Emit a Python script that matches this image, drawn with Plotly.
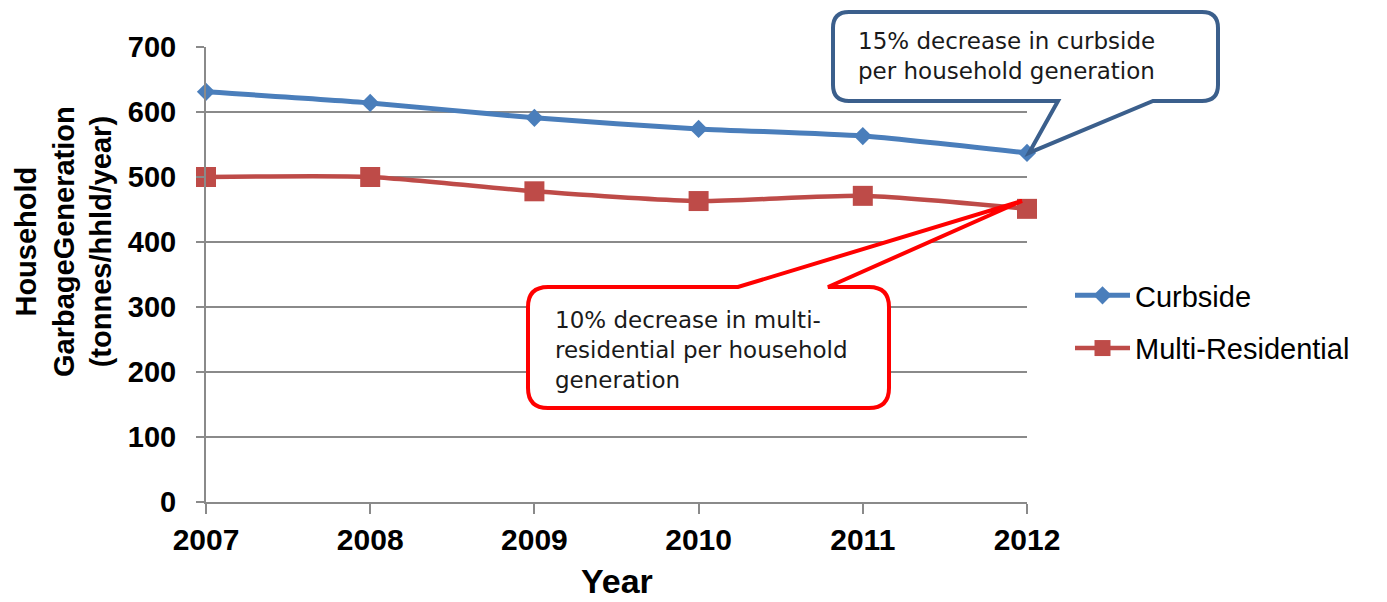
import plotly.graph_objects as go

# Household garbage generation per household, 2007-2012
years = [2007, 2008, 2009, 2010, 2011, 2012]
curbside = [631, 614, 591, 574, 563, 537]
multi_residential = [500, 500, 478, 463, 471, 451]

y_ticks = [0, 100, 200, 300, 400, 500, 600, 700]

curbside_note = "15% decrease in curbside<br>per household generation"
multi_note = "10% decrease in multi-<br>residential per household<br>generation"

W, H = 1387, 602
M_L, M_R, M_T, M_B = 206, 360, 47, 100
X_RANGE = (2007, 2012)
Y_RANGE = (0, 700)
PLOT_W = W - M_L - M_R
PLOT_H = H - M_T - M_B

BLUE = "#4a7ebb"
RED = "#be4b48"
GRID = "#8a8a8a"
AXIS_FONT = "Liberation Sans, Arial, sans-serif"
NOTE_FONT = "DejaVu Sans, Open Sans, sans-serif"


def data_to_px(x, y):
    px = M_L + (x - X_RANGE[0]) / (X_RANGE[1] - X_RANGE[0]) * PLOT_W
    py = M_T + (Y_RANGE[1] - y) / (Y_RANGE[1] - Y_RANGE[0]) * PLOT_H
    return px, py


def px_to_paper(px, py):
    return (px - M_L) / PLOT_W, (H - M_B - py) / PLOT_H


def callout_path(left, top, right, bottom, r, tip, base, side):
    """Rounded box with a wedge pointer; all inputs in page pixels."""
    cmds = []

    def P(cmd, *xy):
        coords = []
        for i in range(0, len(xy), 2):
            x, y = px_to_paper(xy[i], xy[i + 1])
            coords.append(f"{x:.5f},{y:.5f}")
        cmds.append(cmd + " " + " ".join(coords))

    b0, b1 = base
    P("M", left + r, top)
    if side == "top":
        P("L", b0, top)
        P("L", *tip)
        P("L", b1, top)
    P("L", right - r, top)
    P("Q", right, top, right, top + r)
    P("L", right, bottom - r)
    P("Q", right, bottom, right - r, bottom)
    if side == "bottom":
        P("L", b1, bottom)
        P("L", *tip)
        P("L", b0, bottom)
    P("L", left + r, bottom)
    P("Q", left, bottom, left, bottom - r)
    P("L", left, top + r)
    P("Q", left, top, left + r, top)
    return " ".join(cmds) + " Z"


fig = go.Figure()

fig.add_trace(go.Scatter(
    x=years, y=curbside, name="Curbside", mode="lines+markers",
    line=dict(color=BLUE, width=5, shape="spline", smoothing=0.6),
    marker=dict(symbol="diamond", size=14, color=BLUE),
    cliponaxis=False, legendgroup="a",
))
fig.add_trace(go.Scatter(
    x=years, y=multi_residential, name="Multi-Residential", mode="lines+markers",
    line=dict(color=RED, width=4.5, shape="spline", smoothing=0.6),
    marker=dict(symbol="square", size=20, color=RED),
    cliponaxis=False, legendgroup="b",
))

# Callout for curbside: box above the plot, pointing at the last point
tip_c = data_to_px(years[-1], curbside[-1])
blue_path = callout_path(833, 12, 1218, 101, 16, (tip_c[0] + 2, tip_c[1]),
                         (1058, 1153), "bottom")
# Callout for multi-residential: box below the lines, pointing up to the last point
tip_m = data_to_px(years[-1], multi_residential[-1])
red_path = callout_path(528, 287, 889, 408, 20, (tip_m[0] - 5, tip_m[1] - 8),
                        (738, 828), "top")

fig.add_shape(type="path", path=blue_path, xref="paper", yref="paper",
              line=dict(color="#3b5f8c", width=4), fillcolor="white", layer="above")
fig.add_shape(type="path", path=red_path, xref="paper", yref="paper",
              line=dict(color="#ff0000", width=4), fillcolor="white", layer="above")

nx, ny = px_to_paper(856, 26)
fig.add_annotation(text=curbside_note, xref="paper", yref="paper", x=nx, y=ny,
                   xanchor="left", yanchor="top", align="left", showarrow=False,
                   font=dict(family=NOTE_FONT, size=23, color="#1a1a1a"))
nx, ny = px_to_paper(553, 305)
fig.add_annotation(text=multi_note, xref="paper", yref="paper", x=nx, y=ny,
                   xanchor="left", yanchor="top", align="left", showarrow=False,
                   font=dict(family=NOTE_FONT, size=23, color="#1a1a1a"))

# Axis titles
tx, ty = px_to_paper(63, 242)
fig.add_annotation(text="Household<br>GarbageGeneration<br>(tonnes/hhld/year)",
                   xref="paper", yref="paper", x=tx, y=ty, textangle=-90,
                   xanchor="center", yanchor="middle", showarrow=False,
                   font=dict(family=AXIS_FONT, size=29, color="black", weight="bold"))
tx, ty = px_to_paper(617, 581)
fig.add_annotation(text="Year", xref="paper", yref="paper", x=tx, y=ty,
                   xanchor="center", yanchor="middle", showarrow=False,
                   font=dict(family=AXIS_FONT, size=34, color="black", weight="bold"))

lx, ly = px_to_paper(1070, 322)
fig.update_layout(
    width=W, height=H,
    margin=dict(l=M_L, r=M_R, t=M_T, b=M_B),
    paper_bgcolor="white", plot_bgcolor="white",
    showlegend=True,
    legend=dict(x=lx, y=ly, xanchor="left", yanchor="middle",
                font=dict(family=AXIS_FONT, size=29, color="black"),
                itemwidth=55, traceorder="grouped", tracegroupgap=12,
                bgcolor="rgba(0,0,0,0)"),
    xaxis=dict(range=list(X_RANGE), tickvals=years, ticktext=[str(y) for y in years],
               showgrid=False, zeroline=False, showline=True, linecolor=GRID,
               linewidth=2, ticks="outside", ticklen=10, tickwidth=1.5, tickcolor=GRID,
               tickfont=dict(family=AXIS_FONT, size=30, color="black", weight="bold")),
    yaxis=dict(range=list(Y_RANGE), tickvals=y_ticks,
               showgrid=True, gridcolor=GRID, gridwidth=1.8, zeroline=False,
               showline=True, linecolor=GRID, linewidth=2, ticks="outside",
               ticklen=8, tickwidth=1.5, tickcolor=GRID, ticklabelstandoff=14,
               tickfont=dict(family=AXIS_FONT, size=29, color="black", weight="bold")),
)

fig.write_html("out.html")
